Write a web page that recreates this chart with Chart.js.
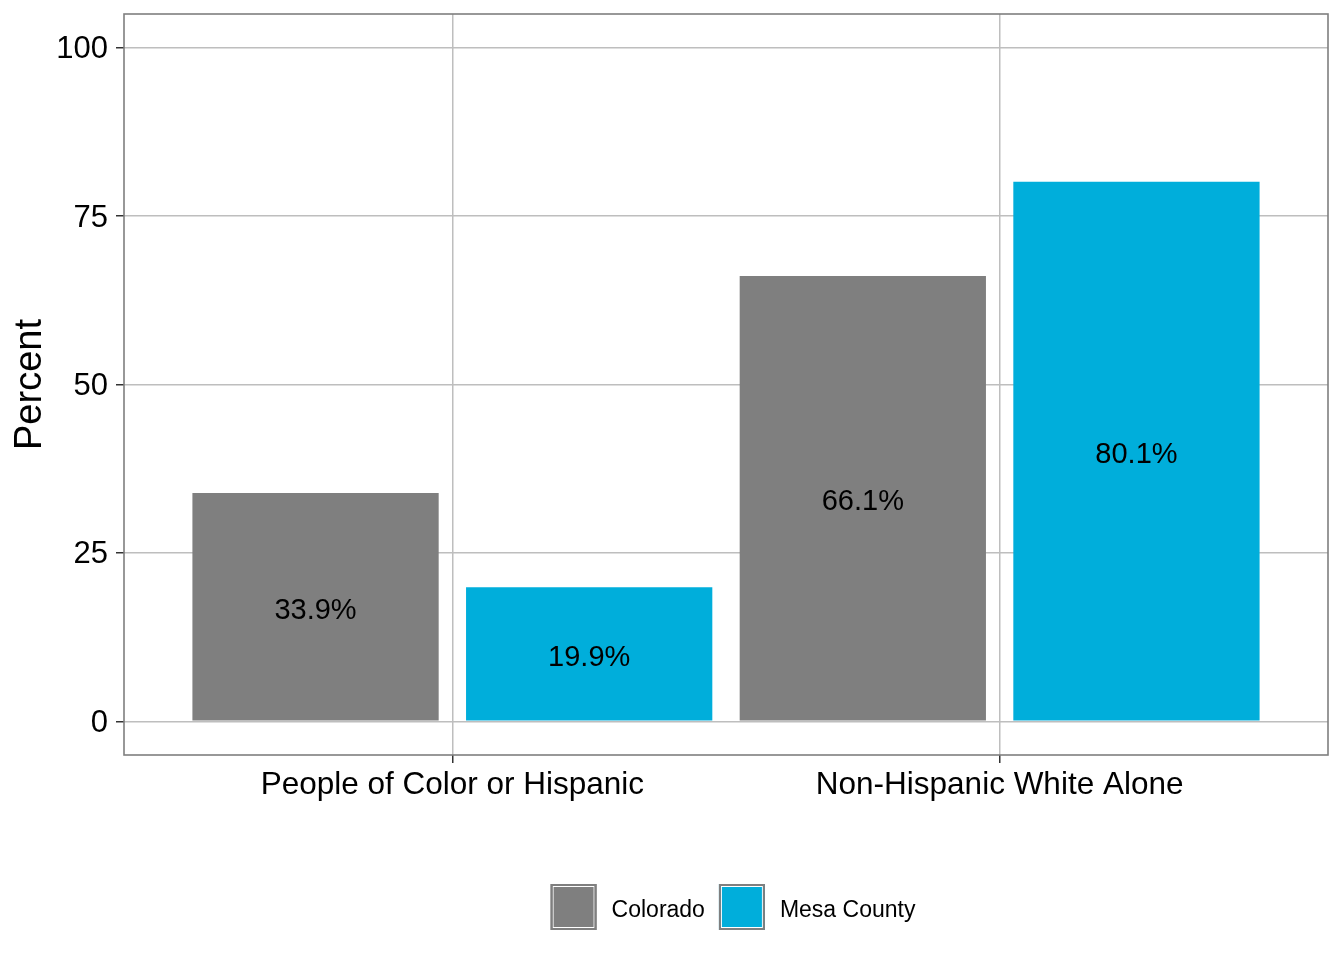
<!DOCTYPE html>
<html>
<head>
<meta charset="utf-8">
<script src="https://cdn.jsdelivr.net/npm/chart.js@4.4.1/dist/chart.umd.min.js"></script>
<style>
  html, body { margin: 0; padding: 0; background: #ffffff; }
  #wrap { width: 1344px; height: 960px; position: relative; }
</style>
</head>
<body>
<div id="wrap"><canvas id="c"></canvas></div>
<script>
// ---- data ----
const categories = ['People of Color or Hispanic', 'Non-Hispanic White Alone'];
const seriesNames = ['Colorado', 'Mesa County'];
const coloradoValues = [33.9, 66.1];
const mesaValues = [19.9, 80.1];
const yTicks = [0, 25, 50, 75, 100];
const yAxisMin = -5;
const yAxisMax = 105;
const xAxisMin = 0.4;
const xAxisMax = 2.6;

const FONT = '"Liberation Sans", Arial, Helvetica, sans-serif';
const COLORS = ['#7f7f7f', '#00aedb'];

function toPoints(vals) {
  return categories.map((c, i) => ({ x: i + 1, y: vals[i] }));
}

const labelPlugin = {
  id: 'barLabels',
  afterDatasetsDraw(chart) {
    const ctx = chart.ctx;
    ctx.save();
    ctx.font = '29px ' + FONT;
    ctx.fillStyle = '#000000';
    ctx.textAlign = 'center';
    ctx.textBaseline = 'middle';
    chart.data.datasets.forEach((ds, di) => {
      const meta = chart.getDatasetMeta(di);
      meta.data.forEach((bar, i) => {
        const v = ds.data[i].y;
        ctx.fillText(v.toFixed(1) + '%', bar.x, (bar.y + bar.base) / 2 + 4);
      });
    });
    ctx.restore();
  }
};

const framePlugin = {
  id: 'panelFrame',
  afterDraw(chart) {
    const a = chart.chartArea;
    const ctx = chart.ctx;
    ctx.save();
    ctx.strokeStyle = '#7f7f7f';
    ctx.lineWidth = 1.6;
    ctx.strokeRect(a.left, a.top, a.right - a.left, a.bottom - a.top);
    ctx.restore();
  }
};

const legendPlugin = {
  id: 'ggLegend',
  afterDraw(chart) {
    const ctx = chart.ctx;
    const a = chart.chartArea;
    const box = 46, gapText = 15, gapItem = 14;
    ctx.save();
    ctx.font = '23px ' + FONT;
    const widths = seriesNames.map(n => ctx.measureText(n).width);
    let total = 0;
    widths.forEach((w, i) => { total += box + gapText + w + (i < widths.length - 1 ? gapItem : 0); });
    let x = (a.left + a.right) / 2 + 7 - total / 2;
    const cy = 907;
    seriesNames.forEach((name, i) => {
      const top = cy - box / 2;
      ctx.fillStyle = COLORS[i];
      ctx.fillRect(x, top, box, box);
      ctx.strokeStyle = '#ffffff';
      ctx.lineWidth = 1;
      ctx.strokeRect(x + 2.5, top + 2.5, box - 5, box - 5);
      ctx.strokeStyle = '#7f7f7f';
      ctx.lineWidth = 2;
      ctx.strokeRect(x + 1, top + 1, box - 2, box - 2);
      ctx.fillStyle = '#000000';
      ctx.textAlign = 'left';
      ctx.textBaseline = 'middle';
      ctx.fillText(name, x + box + gapText, cy + 4);
      x += box + gapText + widths[i] + gapItem;
    });
    ctx.restore();
  }
};

new Chart(document.getElementById('c'), {
  type: 'bar',
  data: {
    datasets: [
      { label: seriesNames[0], data: toPoints(coloradoValues), backgroundColor: COLORS[0], borderWidth: 0 },
      { label: seriesNames[1], data: toPoints(mesaValues), backgroundColor: COLORS[1], borderWidth: 0 }
    ]
  },
  options: {
    responsive: true,
    maintainAspectRatio: false,
    animation: false,
    categoryPercentage: 1.0,
    barPercentage: 0.9,
    layout: { padding: { top: 14, right: 16, left: 0, bottom: 0 } },
    plugins: {
      legend: { display: false },
      tooltip: { enabled: false }
    },
    scales: {
      x: {
        type: 'linear',
        offset: false,
        min: xAxisMin,
        max: xAxisMax,
        afterBuildTicks(s) { s.ticks = categories.map((c, i) => ({ value: i + 1 })); },
        afterFit(s) { s.height = 205; s.paddingLeft = 0; s.paddingRight = 0; },
        grid: { offset: false, color: '#bebebe', lineWidth: 1.5, tickColor: '#333333', tickLength: 8, drawTicks: true },
        border: { display: false },
        ticks: {
          autoSkip: false, maxRotation: 0, minRotation: 0,
          padding: 3,
          color: '#000000',
          font: { family: FONT, size: 31.5 },
          callback(v) { return categories[Math.round(v) - 1]; }
        }
      },
      y: {
        type: 'linear',
        min: yAxisMin,
        max: yAxisMax,
        afterBuildTicks(s) { s.ticks = yTicks.map(v => ({ value: v })); },
        afterFit(s) { s.width = 124; s.paddingTop = 0; s.paddingBottom = 0; },
        grid: { color: '#bebebe', lineWidth: 1.5, tickColor: '#333333', tickLength: 8, drawTicks: true },
        border: { display: false },
        ticks: {
          padding: 8,
          labelOffset: 2,
          color: '#000000',
          font: { family: FONT, size: 31 },
          callback(v) { return String(v); }
        },
        title: {
          display: true,
          text: 'Percent',
          color: '#000000',
          font: { family: FONT, size: 38 },
          padding: { top: 8, bottom: 0 }
        }
      }
    }
  },
  plugins: [labelPlugin, framePlugin, legendPlugin]
});
</script>
</body>
</html>
